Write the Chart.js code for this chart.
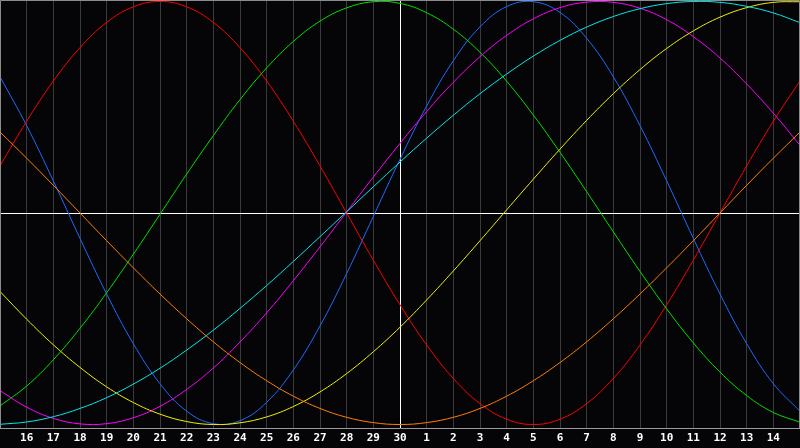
<!DOCTYPE html>
<html>
<head>
<meta charset="utf-8">
<script src="https://cdn.jsdelivr.net/npm/chart.js@4/dist/chart.umd.min.js"></script>
<style>
  html, body { margin: 0; padding: 0; background: #050508; overflow: hidden; }
  canvas { display: block; }
</style>
</head>
<body>
<canvas id="bio" width="800" height="448"></canvas>
<script>
    // jours affichés (le premier et le dernier sont les bords, sans étiquette)
    var jours = ['15', '16', '17', '18', '19', '20', '21', '22', '23', '24', '25', '26', '27', '28', '29', '30',
        '1', '2', '3', '4', '5', '6', '7', '8', '9', '10', '11', '12', '13', '14', '15'];

    // valeurs (-1 .. 1), une par jour
    var bleu = [0.644, 0.413, 0.152, -0.120, -0.383, -0.618, -0.807, -0.937, -0.996, -0.982, -0.895, -0.742, -0.534, -0.286, -0.016,
        0.254, 0.506, 0.720, 0.880, 0.976, 0.999, 0.948, 0.826, 0.644, 0.413, 0.152, -0.120, -0.383, -0.618, -0.807, -0.937];
    var rouge = [0.223, 0.434, 0.624, 0.782, 0.901, 0.975, 1, 0.975, 0.901, 0.782, 0.624, 0.434, 0.223, 0, -0.223,
        -0.434, -0.624, -0.782, -0.901, -0.975, -1, -0.975, -0.901, -0.782, -0.624, -0.434, -0.223, 0, 0.223, 0.434, 0.624];
    var vert = [-0.912, -0.818, -0.694, -0.545, -0.377, -0.195, -0.006, 0.184, 0.366, 0.536, 0.686, 0.811, 0.907, 0.970, 0.999,
        0.991, 0.947, 0.869, 0.760, 0.623, 0.463, 0.287, 0.101, -0.089, -0.276, -0.453, -0.614, -0.752, -0.863, -0.943, -0.989];
    var magenta = [-0.840, -0.918, -0.971, -0.997, -0.996, -0.968, -0.914, -0.834, -0.733, -0.610, -0.472, -0.320, -0.160, 0.005, 0.170,
        0.329, 0.480, 0.618, 0.739, 0.840, 0.918, 0.971, 0.997, 0.996, 0.968, 0.914, 0.834, 0.733, 0.610, 0.472, 0.320];
    var jaune = [-0.371, -0.502, -0.623, -0.730, -0.822, -0.896, -0.951, -0.986, -1.000, -0.992, -0.964, -0.915, -0.846, -0.759, -0.656,
        -0.540, -0.411, -0.274, -0.131, 0.015, 0.160, 0.302, 0.438, 0.564, 0.678, 0.778, 0.861, 0.926, 0.971, 0.996, 0.999];
    var orange = [0.383, 0.259, 0.131, 0, -0.131, -0.259, -0.383, -0.500, -0.609, -0.707, -0.793, -0.866, -0.924, -0.966, -0.991,
        -1, -0.991, -0.966, -0.924, -0.866, -0.793, -0.707, -0.609, -0.500, -0.383, -0.259, -0.131, 0, 0.131, 0.259, 0.383];
    var cyan = [-0.999, -0.988, -0.963, -0.924, -0.873, -0.809, -0.734, -0.648, -0.554, -0.451, -0.343, -0.229, -0.112, 0.006, 0.124,
        0.241, 0.354, 0.462, 0.564, 0.657, 0.742, 0.816, 0.879, 0.929, 0.966, 0.990, 1.000, 0.996, 0.977, 0.946, 0.900];

    function courbe(valeurs, couleur) {
        return {
            data: valeurs,
            borderColor: couleur,
            borderWidth: 1,
            pointRadius: 0,
            pointHoverRadius: 0,
            tension: 0.4,
            fill: false
        };
    }

    // fond noir + cadre gris
    var cadre = {
        id: 'cadre',
        beforeDraw: function(chart) {
            var c = chart.ctx;
            c.save();
            c.fillStyle = '#050508';
            c.fillRect(0, 0, chart.width, chart.height);
            c.restore();
        },
        afterDraw: function(chart) {
            var c = chart.ctx, a = chart.chartArea;
            c.save();
            c.strokeStyle = '#8c8c8c';
            c.lineWidth = 1;
            c.beginPath();
            c.moveTo(a.left + 0.5, a.bottom);
            c.lineTo(a.left + 0.5, a.top + 0.5);
            c.lineTo(a.right - 0.5, a.top + 0.5);
            c.lineTo(a.right - 0.5, a.bottom);
            c.stroke();
            c.restore();
        }
    };

    var ctx = document.getElementById('bio').getContext('2d');
    var bioChart = new Chart(ctx, {
        type: 'line',
        data: {
            labels: jours,
            datasets: [
                courbe(cyan, '#00e8e8'),
                courbe(orange, '#ff7f00'),
                courbe(jaune, '#f0f000'),
                courbe(magenta, '#ff00ff'),
                courbe(vert, '#00e000'),
                courbe(rouge, '#ff0000'),
                courbe(bleu, '#1a6cff')
            ]
        },
        options: {
            responsive: false,
            animation: false,
            devicePixelRatio: 1,
            layout: { padding: 0, autoPadding: false },
            plugins: {
                legend: { display: false },
                tooltip: { enabled: false }
            },
            scales: {
                x: {
                    type: 'category',
                    offset: false,
                    grid: {
                        offset: false,
                        drawTicks: false,
                        color: function(c) {
                            return c.index === 15 ? '#ffffff' : '#3a3a3a';
                        }
                    },
                    border: { display: true, color: '#9a9a9a' },
                    ticks: {
                        autoSkip: false,
                        maxRotation: 0,
                        padding: 4,
                        color: '#ffffff',
                        font: { family: 'DejaVu Sans Mono', size: 11, weight: 'bold' },
                        callback: function(value, index) {
                            if (index === 0 || index === jours.length - 1) return '';
                            return this.getLabelForValue(value);
                        }
                    },
                    afterFit: function(scale) {
                        scale.height = 20;
                        scale.paddingLeft = 0;
                        scale.paddingRight = 0;
                    }
                },
                y: {
                    min: -1.0165,
                    max: 1.0071,
                    grid: {
                        drawTicks: false,
                        color: function(c) {
                            return c.tick && c.tick.value === 0 ? '#ffffff' : 'rgba(0,0,0,0)';
                        }
                    },
                    border: { display: false },
                    ticks: { display: false },
                    afterBuildTicks: function(scale) { scale.ticks = [{ value: 0 }]; },
                    afterFit: function(scale) { scale.width = 0; }
                }
            }
        },
        plugins: [cadre]
    });
</script>
</body>
</html>
